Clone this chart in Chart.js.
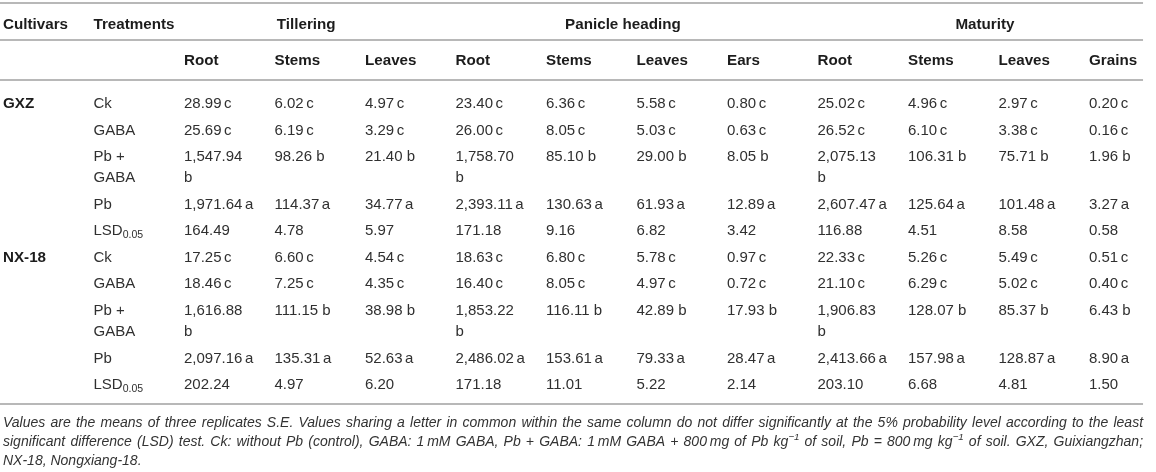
<!DOCTYPE html>
<html>
<head>
<meta charset="utf-8">
<script src="https://cdn.jsdelivr.net/npm/chart.js@4.4.1/dist/chart.umd.min.js"></script>
<style>
  html, body { margin: 0; padding: 0; background: #ffffff; }
  #wrap { width: 1156px; height: 472px; }
</style>
</head>
<body>
<div id="wrap"><canvas id="c" width="1156" height="472"></canvas></div>
<script>
// ---------------- DATA ----------------
const cultivars = ['GXZ', 'NX-18'];
const treatments = ['Ck', 'GABA', 'Pb + GABA', 'Pb', 'LSD_0.05'];
const letters = ['c', 'c', 'b', 'a', ''];
const headCultivar = 'Cultivars';
const headTreatment = 'Treatments';
const stages = ['Tillering', 'Panicle heading', 'Maturity'];
const stageFirstCol = [2, 5, 9];
const stageLastCol = [4, 8, 12];
const organs = ['Root', 'Stems', 'Leaves', 'Root', 'Stems', 'Leaves', 'Ears', 'Root', 'Stems', 'Leaves', 'Grains'];

const gxzCk     = [28.99, 6.02, 4.97, 23.40, 6.36, 5.58, 0.80, 25.02, 4.96, 2.97, 0.20];
const gxzGaba   = [25.69, 6.19, 3.29, 26.00, 8.05, 5.03, 0.63, 26.52, 6.10, 3.38, 0.16];
const gxzPbGaba = [1547.94, 98.26, 21.40, 1758.70, 85.10, 29.00, 8.05, 2075.13, 106.31, 75.71, 1.96];
const gxzPb     = [1971.64, 114.37, 34.77, 2393.11, 130.63, 61.93, 12.89, 2607.47, 125.64, 101.48, 3.27];
const gxzLsd    = [164.49, 4.78, 5.97, 171.18, 9.16, 6.82, 3.42, 116.88, 4.51, 8.58, 0.58];

const nxCk      = [17.25, 6.60, 4.54, 18.63, 6.80, 5.78, 0.97, 22.33, 5.26, 5.49, 0.51];
const nxGaba    = [18.46, 7.25, 4.35, 16.40, 8.05, 4.97, 0.72, 21.10, 6.29, 5.02, 0.40];
const nxPbGaba  = [1616.88, 111.15, 38.98, 1853.22, 116.11, 42.89, 17.93, 1906.83, 128.07, 85.37, 6.43];
const nxPb      = [2097.16, 135.31, 52.63, 2486.02, 153.61, 79.33, 28.47, 2413.66, 157.98, 128.87, 8.90];
const nxLsd     = [202.24, 4.97, 6.20, 171.18, 11.01, 5.22, 2.14, 203.10, 6.68, 4.81, 1.50];

const cultivarValues = [
  [gxzCk, gxzGaba, gxzPbGaba, gxzPb, gxzLsd],
  [nxCk, nxGaba, nxPbGaba, nxPb, nxLsd]
];

const footnote = [
  'Values are the means of three replicates S.E. Values sharing a letter in common within the same column do not differ significantly at the 5% probability level according to the least',
  'significant difference (LSD) test. Ck: without Pb (control), GABA: 1\u2009mM GABA, Pb + GABA: 1\u2009mM GABA + 800\u2009mg of Pb kg^\u22121 of soil, Pb = 800\u2009mg kg^\u22121 of soil. GXZ, Guixiangzhan;',
  'NX-18, Nongxiang-18.'
];

// ---------------- LAYOUT / STYLE ----------------
const CANVAS_W = 1156, CANVAS_H = 472;
const X0PX = 3, COLW = 90.5;        // first column left edge, column pitch (px)
const ROW0PX = 104, ROWPX = 26.5;    // first data row centre, row pitch (px)
const LINE_U = 0.8;                  // extra line inside a cell (row units)
const PAD_U = 0.3;                   // cell right padding (col units)
const TOP_RULE = -3.81, HDR1 = -2.98, RULE1 = -2.415, HDR2 = -1.64, RULE2 = -0.906;
const RULE_END = 12.597;
const FOOT_GAP = 0.72, FOOT_STEP = 0.72;

const FAM = '"Liberation Sans", Arial, Helvetica, sans-serif';
const F_HEAD = 'bold 15.2px ' + FAM;
const F_BODY = '15px ' + FAM;
const F_SUB = '10.5px ' + FAM;
const C_HEAD = '#1c1c1c', C_BODY = '#303030', C_RULE = '#b8b8b8', C_FOOT = '#333333';

const mctx = document.createElement('canvas').getContext('2d');
function tw(t, font) { mctx.font = font; return mctx.measureText(t).width; }
function segsWidth(segs) { return segs.reduce((s, g) => s + (g.gap != null ? g.gap : tw(g.t, g.font)), 0); }

function fmt(v) {
  const s = v.toFixed(2); const p = s.split('.');
  return p[0].replace(/\B(?=(\d{3})+(?!\d))/g, ',') + '.' + p[1];
}
const maxCellW = (1 - PAD_U) * COLW;

function labelLines(label) {
  if (label.indexOf('_') >= 0) {
    const p = label.split('_');
    return [[{ t: p[0], font: F_BODY }, { t: p[1], font: F_SUB, dy: 4 }]];
  }
  const words = label.split(' ');
  const lines = []; let cur = '';
  words.forEach(w => {
    const cand = cur ? cur + ' ' + w : w;
    if (cur && tw(cand, F_BODY) > maxCellW) { lines.push(cur); cur = w; } else cur = cand;
  });
  if (cur) lines.push(cur);
  return lines.map(l => [{ t: l, font: F_BODY }]);
}
function valueLines(v, letter) {
  const num = fmt(v);
  if (!letter) return [[{ t: num, font: F_BODY }]];
  if (letter === 'b') {                       // breakable space in source
    const full = num + ' ' + letter;
    if (tw(full, F_BODY) > maxCellW) return [[{ t: num, font: F_BODY }], [{ t: letter, font: F_BODY }]];
    return [[{ t: full, font: F_BODY }]];
  }
  return [[{ t: num, font: F_BODY }, { gap: 2.5 }, { t: letter, font: F_BODY }]];  // non-breaking thin space
}

// ---------------- BUILD TEXT ITEMS ----------------
const cells = [];
cells.push({ x: 0, y: HDR1, lines: [[{ t: headCultivar, font: F_HEAD }]], color: C_HEAD });
cells.push({ x: 1, y: HDR1, lines: [[{ t: headTreatment, font: F_HEAD }]], color: C_HEAD });
stages.forEach((s, i) => {
  cells.push({ x: (stageFirstCol[i] + stageLastCol[i] + 1 - PAD_U) / 2, y: HDR1, align: 'center',
    lines: [[{ t: s, font: F_HEAD }]], color: C_HEAD });
});
organs.forEach((o, i) => cells.push({ x: i + 2, y: HDR2, lines: [[{ t: o, font: F_HEAD }]], color: C_HEAD }));

let yPos = 0, lastY = 0, lastN = 1;
cultivars.forEach((cv, ci) => {
  cultivarValues[ci].forEach((vals, ti) => {
    const row = [];
    if (ti === 0) row.push({ x: 0, lines: [[{ t: cv, font: F_HEAD }]], color: C_HEAD });
    row.push({ x: 1, lines: labelLines(treatments[ti]), color: C_BODY });
    vals.forEach((v, k) => row.push({ x: k + 2, lines: valueLines(v, letters[ti]), color: C_BODY }));
    const n = Math.max.apply(null, row.map(c => c.lines.length));
    row.forEach(c => { c.y = yPos; cells.push(c); });
    lastY = yPos; lastN = n;
    yPos += 1 + (n - 1) * LINE_U;
  });
});
const BOTTOM_RULE = lastY + (lastN - 1) * LINE_U + 0.72;

// footnote (justified)
const xMinU = -X0PX / COLW;
const xMaxU = (CANVAS_W - X0PX) / COLW;
const justW = RULE_END * COLW;
let footSize;
{
  const w = tw(footnote[0], 'italic 13px ' + FAM);
  footSize = Math.min(14, 13 * (justW * 0.995) / w);
}
const F_FOOT = 'italic ' + footSize.toFixed(2) + 'px ' + FAM;
const F_FOOT_SUP = 'italic ' + (footSize * 0.7).toFixed(2) + 'px ' + FAM;
footnote.forEach((line, i) => {
  const words = line.split(' ').map(w => {
    if (w.indexOf('^') >= 0) {
      const p = w.split('^');
      return [{ t: p[0], font: F_FOOT }, { t: p[1], font: F_FOOT_SUP, dy: -5 }];
    }
    return [{ t: w, font: F_FOOT }];
  });
  cells.push({ x: 0, y: BOTTOM_RULE + FOOT_GAP + i * FOOT_STEP, words: words, justify: i < footnote.length - 1, color: C_FOOT });
});

// ---------------- CHART ----------------
function drawSegs(ctx, segs, x, y, color) {
  let cx = x;
  segs.forEach(g => {
    if (g.gap != null) { cx += g.gap; return; }
    ctx.font = g.font; ctx.fillStyle = color;
    ctx.fillText(g.t, cx, y + (g.dy || 0));
    cx += ctx.measureText(g.t).width;
  });
  return cx;
}

const tablePlugin = {
  id: 'tableText',
  afterDatasetsDraw(chart) {
    const ctx = chart.ctx, ys = chart.scales.y, xs = chart.scales.x;
    ctx.save();
    ctx.textBaseline = 'middle';
    ctx.textAlign = 'left';
    chart.data.datasets.forEach((ds, di) => {
      if (!ds.isText) return;
      const meta = chart.getDatasetMeta(di);
      meta.data.forEach((el, i) => {
        const c = ds.data[i];
        if (c.words) {
          const widths = c.words.map(segsWidth);
          const total = widths.reduce((a, b) => a + b, 0);
          const fullW = xs.getPixelForValue(RULE_END) - el.x;
          const sp = c.justify ? (fullW - total) / (c.words.length - 1) : tw(' ', F_FOOT);
          let px = el.x;
          c.words.forEach((w, k) => { drawSegs(ctx, w, px, el.y, c.color); px += widths[k] + sp; });
          return;
        }
        c.lines.forEach((segs, k) => {
          const py = ys.getPixelForValue(c.y + k * LINE_U);
          let px = el.x;
          if (c.align === 'center') px -= segsWidth(segs) / 2;
          drawSegs(ctx, segs, px, py, c.color);
        });
      });
    });
    ctx.restore();
  }
};

const ruleYs = [TOP_RULE, RULE1, RULE2, BOTTOM_RULE];
const ruleSets = ruleYs.map(r => ({
  type: 'scatter',
  data: [{ x: xMinU, y: r }, { x: RULE_END, y: r }],
  showLine: true, borderColor: C_RULE, borderWidth: 2, pointRadius: 0, fill: false
}));

new Chart(document.getElementById('c'), {
  type: 'scatter',
  data: {
    datasets: ruleSets.concat([{
      isText: true,
      data: cells,
      pointRadius: 0,
      pointHoverRadius: 0,
      showLine: false
    }])
  },
  options: {
    responsive: false,
    animation: false,
    events: [],
    layout: { padding: 0, autoPadding: false },
    plugins: { legend: { display: false }, tooltip: { enabled: false } },
    scales: {
      x: { type: 'linear', display: false, min: xMinU, max: xMaxU },
      y: { type: 'linear', display: false, reverse: true, min: -ROW0PX / ROWPX, max: (CANVAS_H - ROW0PX) / ROWPX }
    }
  },
  plugins: [tablePlugin]
});
</script>
</body>
</html>
